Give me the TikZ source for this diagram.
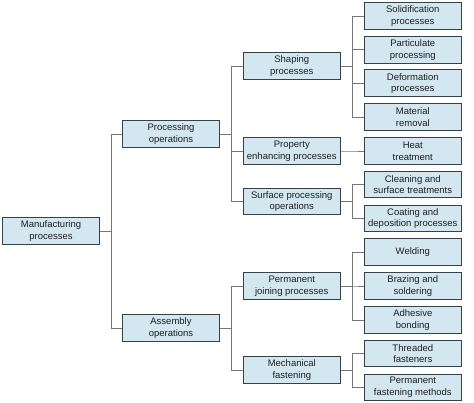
\documentclass[tikz,border=0pt]{standalone}
\usepackage{fontspec}
\setmainfont{Liberation Sans}
\usepackage{tikz}
\definecolor{boxfill}{HTML}{D3E7F0}
\definecolor{boxline}{HTML}{34434A}
\definecolor{wire}{HTML}{767676}
\tikzset{thick,
    procbox/.style={rectangle,draw=boxline,line width=1pt,fill=boxfill,
        minimum width=96.5pt,minimum height=26.8pt,inner sep=1pt,
        align=center,font=\fontsize{9.5}{11.7}\selectfont,text=black!88},
    conn/.style={draw=wire,line width=0.75pt}}
\begin{document}
\begin{tikzpicture}
[x=1pt,y=-1pt]
\useasboundingbox (0,0) rectangle (474,403);
\node[procbox] (mfg)  at (51,231) {Manufacturing\\processes};

\node[procbox] (proc) at (171,134) {Processing\\operations};
\node[procbox] (asm)  at (171,328) {Assembly\\operations};

\node[procbox] (shape) at (291.8,66.3)  {Shaping\\processes};
\node[procbox] (prop)  at (291.8,151)   {Property\\enhancing processes};
\node[procbox] (surf)  at (291.8,201.5) {Surface processing\\operations};
\node[procbox] (perm)  at (291.8,286)   {Permanent\\joining processes};
\node[procbox] (mech)  at (291.8,370)   {Mechanical\\fastening};

\node[procbox] (solid)  at (412.8,16)    {Solidification\\processes};
\node[procbox] (partic) at (412.8,49.8)  {Particulate\\processing};
\node[procbox] (deform) at (412.8,83.4)  {Deformation\\processes};
\node[procbox] (matrem) at (412.8,117.3) {Material\\removal};
\node[procbox] (heat)   at (412.8,151)   {Heat\\treatment};
\node[procbox] (clean)  at (412.8,184.5) {Cleaning and\\surface treatments};
\node[procbox] (coat)   at (412.8,218.5) {Coating and\\deposition processes};
\node[procbox] (weld)   at (412.8,252.3) {Welding};
\node[procbox] (braze)  at (412.8,286)   {Brazing and\\soldering};
\node[procbox] (adhes)  at (412.8,320)   {Adhesive\\bonding};
\node[procbox] (thread) at (412.8,353.5) {Threaded\\fasteners};
\node[procbox] (pfast)  at (412.8,387.5) {Permanent\\fastening methods};

% tree connectors
\foreach \from/\to in {mfg/proc, mfg/asm,
    proc/shape, proc/prop, proc/surf, asm/perm, asm/mech,
    shape/solid, shape/partic, shape/deform, shape/matrem, prop/heat,
    surf/clean, surf/coat, perm/weld, perm/braze, perm/adhes,
    mech/thread, mech/pfast}
  \draw[conn] (\from.east) -- ++(12pt,0) |- (\to.west);
\end{tikzpicture}
\end{document}
